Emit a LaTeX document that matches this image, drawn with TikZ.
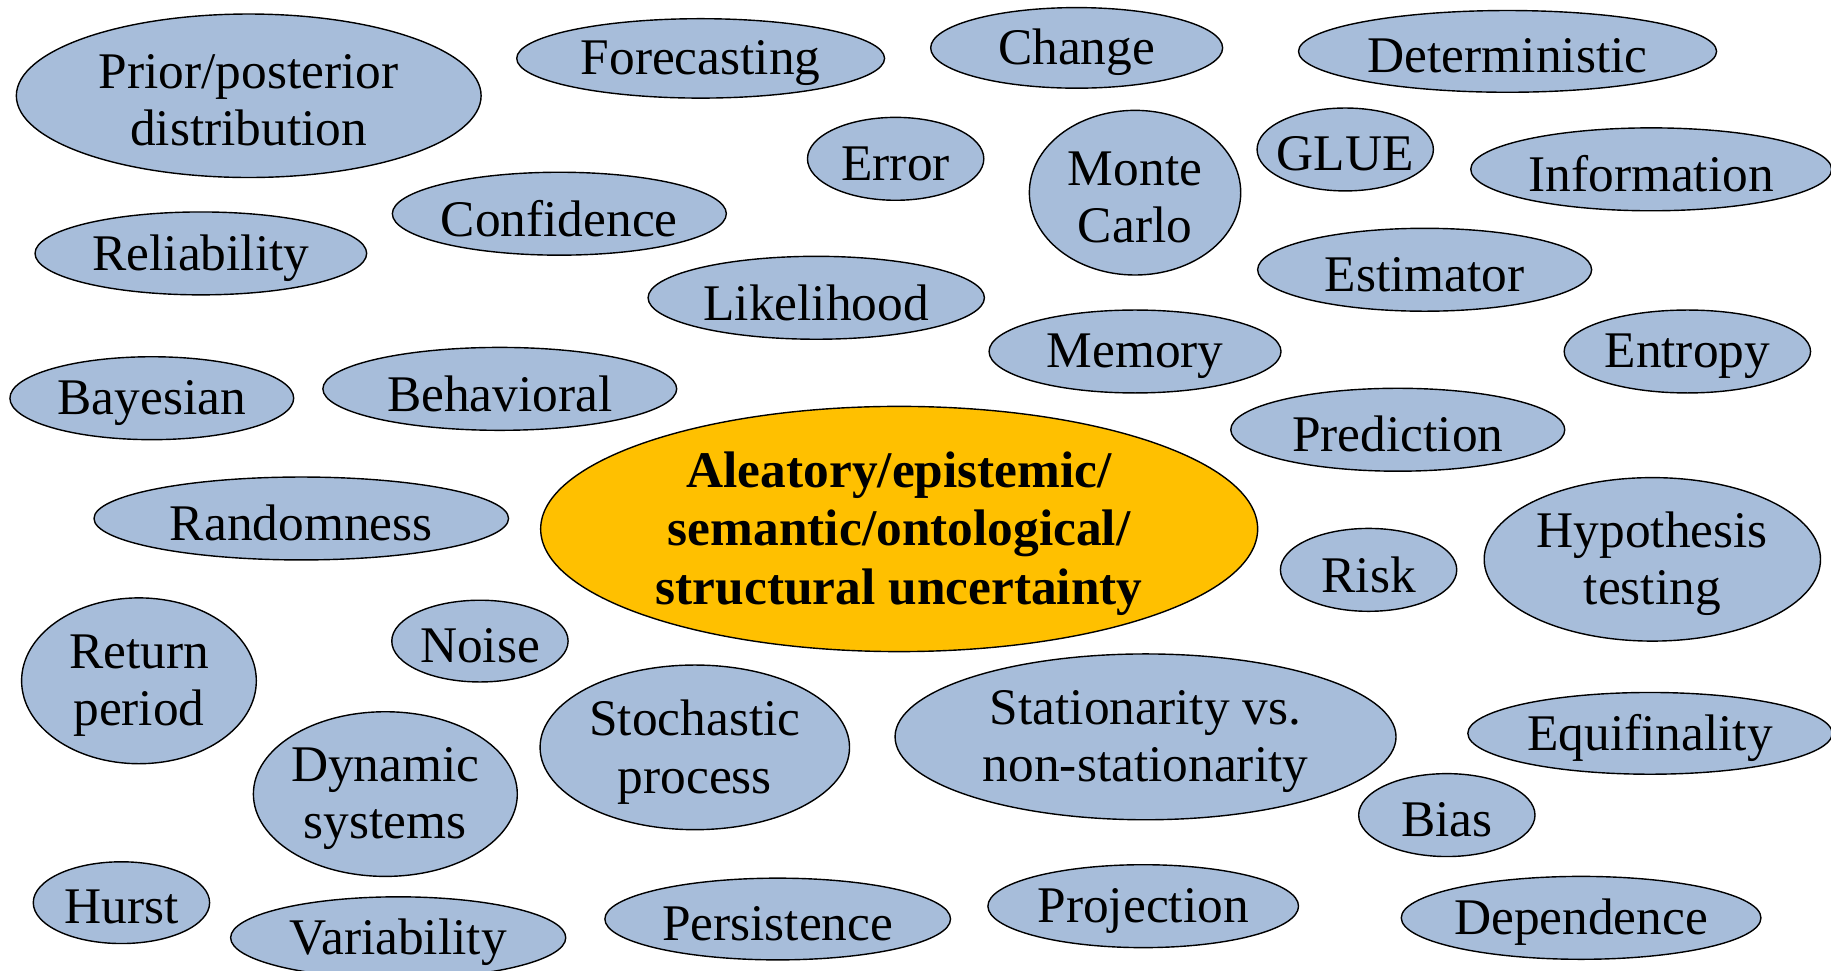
\documentclass[tikz,border=0pt]{standalone}
\usepackage{fontspec}
\setmainfont{Liberation Serif}
\usetikzlibrary{shapes.geometric}
\definecolor{bluegray}{RGB}{167,189,218}
\definecolor{amber}{RGB}{255,192,0}
\tikzset{
  wordtext/.style={align=center, inner sep=0pt, yshift=-4pt, font=\fontsize{44}{49}\selectfont},
  word/.style={ellipse, draw=black, line width=1.2pt, fill=bluegray, inner sep=0pt,
    label={[wordtext]center:{#1}}},
  core/.style={ellipse, draw=black, line width=1.2pt, fill=amber, inner sep=0pt,
    label={[wordtext, font=\fontsize{44}{50}\selectfont\bfseries]center:{#1}}},
}

\begin{document}
\begin{tikzpicture}[x=1pt, y=-1pt]
  \useasboundingbox (0, 0) rectangle (1568, 831);
  \clip (0, 0) rectangle (1568, 831);

  \node[word={Prior/posterior\\distribution}, minimum width=398pt, minimum height=140pt] (prior) at (213, 82) {};
  \node[word=Forecasting, minimum width=315pt, minimum height=68pt] (forecast) at (600, 50) {};
  \node[word=Change, minimum width=250pt, minimum height=69pt] (change) at (922, 41) {};
  \node[word=Deterministic, minimum width=358pt, minimum height=70pt] (determ) at (1291, 44) {};
  \node[word=Error, minimum width=151pt, minimum height=71pt] (error) at (767, 136) {};
  \node[word={Monte\\Carlo}, minimum width=181pt, minimum height=141pt] (monte) at (972, 165) {};
  \node[word=GLUE, minimum width=151pt, minimum height=71pt] (glue) at (1152, 128) {};
  \node[word=Information, minimum width=309pt, minimum height=71pt] (info) at (1414, 145) {};
  \node[word=Confidence, minimum width=286pt, minimum height=71pt] (confid) at (479, 183) {};
  \node[word=Reliability, minimum width=284pt, minimum height=71pt] (reliab) at (172, 217) {};
  \node[word=Likelihood, minimum width=288pt, minimum height=71pt] (likeli) at (699, 255) {};
  \node[word=Estimator, minimum width=286pt, minimum height=71pt] (estim) at (1220, 231) {};
  \node[word=Memory, minimum width=250pt, minimum height=71pt] (memory) at (972, 301) {};
  \node[word=Entropy, minimum width=211pt, minimum height=71pt] (entropy) at (1445, 301) {};
  \node[word=Bayesian, minimum width=243pt, minimum height=71pt] (bayes) at (130, 341) {};
  \node[word=Behavioral, minimum width=303pt, minimum height=71pt] (behav) at (428, 333) {};
  \node[word=Prediction, minimum width=286pt, minimum height=71pt] (predict) at (1197, 368) {};

  % centre of the cloud
  \node[core={Aleatory/epistemic/\\semantic/ontological/\\structural uncertainty},
    minimum width=614pt, minimum height=210pt] (uncert) at (770, 453) {};

  \node[word=Randomness, minimum width=355pt, minimum height=71pt] (random) at (258, 444) {};
  \node[word=Risk, minimum width=151pt, minimum height=71pt] (risk) at (1172, 488) {};
  \node[word={Hypothesis\\testing}, minimum width=288pt, minimum height=140pt] (hypo) at (1415, 479) {};
  \node[word=Noise, minimum width=151pt, minimum height=70pt] (noise) at (411, 549) {};
  \node[word={Return\\period}, minimum width=201pt, minimum height=142pt] (return) at (119, 583) {};
  \node[word={Stochastic\\process}, minimum width=265pt, minimum height=141pt] (stoch) at (595, 640) {};
  \node[word={Stationarity vs.\\non-stationarity}, minimum width=429pt, minimum height=142pt] (station) at (981, 631) {};
  \node[word=Equifinality, minimum width=312pt, minimum height=70pt] (equif) at (1413, 628) {};
  \node[word={Dynamic\\systems}, minimum width=226pt, minimum height=141pt] (dynam) at (330, 680) {};
  \node[word=Bias, minimum width=151pt, minimum height=71pt] (bias) at (1239, 698) {};
  \node[word=Hurst, minimum width=151pt, minimum height=70pt] (hurst) at (104, 773) {};
  \node[word=Variability, minimum width=287pt, minimum height=70pt] (variab) at (341, 803) {};
  \node[word=Persistence, minimum width=296pt, minimum height=70pt] (persist) at (666, 787) {};
  \node[word=Projection, minimum width=266pt, minimum height=71pt] (project) at (979, 776) {};
  \node[word=Dependence, minimum width=308pt, minimum height=71pt] (depend) at (1354, 786) {};
\end{tikzpicture}
\end{document}
